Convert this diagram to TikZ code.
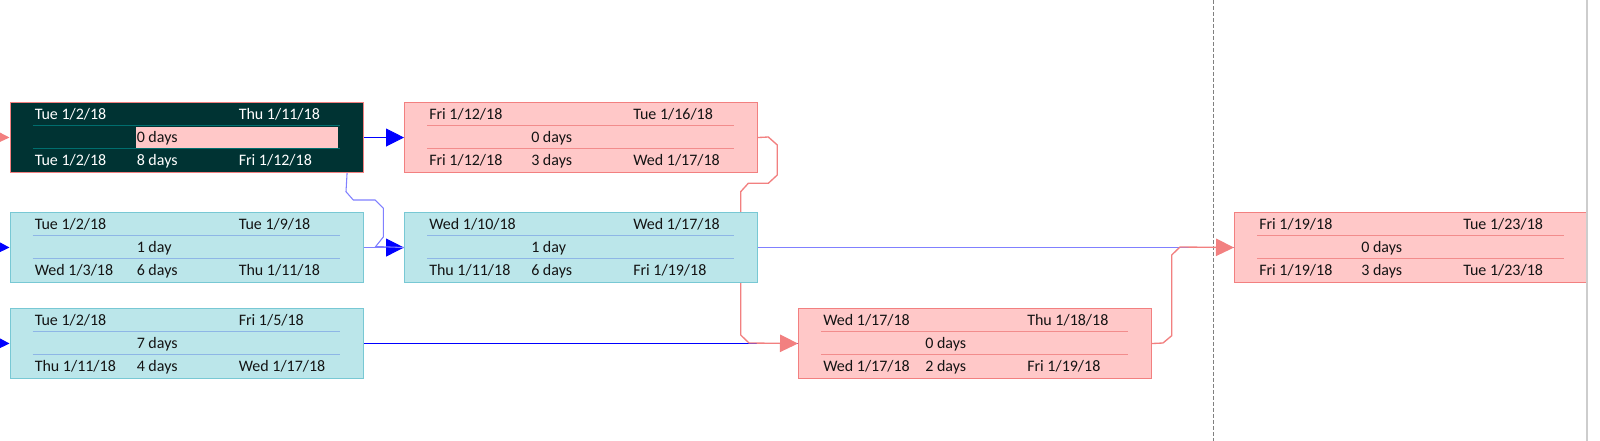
\documentclass[tikz,border=0pt]{standalone}
\usepackage{fontspec}
\setmainfont{Carlito}
\usetikzlibrary{arrows.meta,calc,backgrounds}
\definecolor{colPinkFill}{RGB}{255,200,200}
\definecolor{colPinkDraw}{RGB}{242,128,128}
\definecolor{colPinkSep}{RGB}{242,140,140}
\definecolor{colCyanFill}{RGB}{187,230,234}
\definecolor{colCyanDraw}{RGB}{120,200,212}
\definecolor{colCyanSep}{RGB}{142,182,230}
\definecolor{colDarkFill}{RGB}{0,51,51}
\definecolor{colDarkSep}{RGB}{0,110,110}
\definecolor{colLBlue}{RGB}{128,128,255}
\definecolor{colBlue}{RGB}{0,0,255}
\definecolor{colTxt}{RGB}{20,20,20}
\definecolor{colGrid}{RGB}{128,128,128}
\definecolor{colBorder}{RGB}{205,205,205}
\tikzset{
  boxbase/.style={rectangle, anchor=north west, inner sep=0pt,
    minimum width=264.75pt, minimum height=52.5pt, line width=0.8pt},
  pinkbox/.style={boxbase, fill=colPinkFill, draw=colPinkDraw},
  cyanbox/.style={boxbase, fill=colCyanFill, draw=colCyanDraw},
  darkbox/.style={boxbase, fill=colDarkFill, draw=colPinkDraw},
  pinksep/.style={draw=colPinkSep, line width=0.75pt},
  cyansep/.style={draw=colCyanSep, line width=0.75pt},
  darksep/.style={draw=colDarkSep, line width=0.75pt},
  pinkhl/.style={}, cyanhl/.style={}, darkhl/.style={fill=colPinkFill},
  pinktext/.style={anchor=base west, inner sep=0pt, text=colTxt,
    font=\fontsize{12}{14}\selectfont},
  cyantext/.style={pinktext},
  darktext/.style={pinktext, text=white},
  pinkmid/.style={pinktext}, cyanmid/.style={pinktext}, darkmid/.style={pinktext},
  pinkline/.style={draw=colPinkDraw, line width=1pt},
  lblueline/.style={draw=colLBlue, line width=0.8pt},
  blueline/.style={draw=colBlue, line width=0.75pt},
  tipblue/.style={-{Triangle[length=13.5pt,width=13.5pt,color=colBlue]}},
  tippink/.style={-{Triangle[length=13.5pt,width=13pt,color=colPinkDraw]}},
}
\newcommand\taskbox[9]{%
  \node[#3box] (#1) at #2 {};
  \path[#3hl] ($(#1.north west)+(126.5,25)$) rectangle ($(#1.north west)+(328.5,46)$);
  \draw[#3sep] ($(#1.north west)+(23,24)$) -- ($(#1.north west)+(330,24)$);
  \draw[#3sep] ($(#1.north west)+(23,47)$) -- ($(#1.north west)+(330,47)$);
  \node[#3text] (#1a) at ($(#1.north west)+(25,17.5)$) {#4};
  \node[#3text] (#1b) at ($(#1.north west)+(229,17.5)$) {#5};
  \node[#3mid]  (#1c) at ($(#1.north west)+(127,41)$) {#6};
  \node[#3text] (#1d) at ($(#1.north west)+(25,64)$) {#7};
  \node[#3text] (#1e) at ($(#1.north west)+(127,64)$) {#8};
  \node[#3text] (#1f) at ($(#1.north west)+(229,64)$) {#9};
}
\begin{document}
\begin{tikzpicture}[x=0.75pt, y=-0.75pt]
\useasboundingbox (0,0) rectangle (1600,441);

\taskbox{t1}{(9.5,102)}{dark}{Tue 1/2/18}{Thu 1/11/18}{0 days}{Tue 1/2/18}{8 days}{Fri 1/12/18}
\taskbox{t2}{(9.5,212)}{cyan}{Tue 1/2/18}{Tue 1/9/18}{1 day}{Wed 1/3/18}{6 days}{Thu 1/11/18}
\taskbox{t3}{(9.5,308)}{cyan}{Tue 1/2/18}{Fri 1/5/18}{7 days}{Thu 1/11/18}{4 days}{Wed 1/17/18}
\taskbox{t4}{(404,102)}{pink}{Fri 1/12/18}{Tue 1/16/18}{0 days}{Fri 1/12/18}{3 days}{Wed 1/17/18}
\taskbox{t5}{(404,212)}{cyan}{Wed 1/10/18}{Wed 1/17/18}{1 day}{Thu 1/11/18}{6 days}{Fri 1/19/18}
\taskbox{t6}{(798,308)}{pink}{Wed 1/17/18}{Thu 1/18/18}{0 days}{Wed 1/17/18}{2 days}{Fri 1/19/18}
\taskbox{t7}{(1234,212)}{pink}{Fri 1/19/18}{Tue 1/23/18}{0 days}{Fri 1/19/18}{3 days}{Tue 1/23/18}

\coordinate (in1) at (-12,137);
\coordinate (in2) at (-12,247);
\coordinate (in3) at (-12,343);
\coordinate (gtop) at (1213,0);
\coordinate (gbot) at (1213,441);

\begin{scope}[on background layer]
  \fill[white] (0,0) rectangle (1600,441);
  \draw[colGrid, line width=0.75pt, dash pattern=on 3pt off 1.5pt] (gtop) -- (gbot);
  % incoming arrows at left
  \draw[pinkline, tippink] (in1) -- (t1.west);
  \draw[blueline, tipblue] (in2) -- (t2.west);
  \draw[blueline, tipblue] (in3) -- (t3.west);
  % t1 -> t4
  \draw[pinkline, line width=1.4pt] (t1.east) -- ($(t4.west)+(-12,0)$);
  \draw[blueline, line width=0.6pt, tipblue] (t1.east) -- (t4.west);
  % t2 -> t5
  \draw[lblueline, tipblue] (t2.east) -- (t5.west);
  % t1 -> t5
  \draw[lblueline] ($(t1.south east)+(-16.5,0)$) -- (346,191.7) -- (353.3,200) -- (375,200)
     -- (383.3,208.3) -- (383.3,237) -- (375.7,246.5) -- (t5.west);
  % t3 -> t6
  \draw[blueline] (t3.east) -- (t6.west);
  % t5 -> t7
  \draw[lblueline] (t5.east) -- (t7.west);
  % t4 -> t6
  \draw[pinkline, tippink] (t4.east) -- (768.3,137) -- (777.3,145) -- (777.3,175) -- (768.3,183.3)
     -- (748.3,183.3) -- (740.7,191.7) -- (740.7,335) -- (749,343) -- (t6.west);
  % t6 -> t7
  \draw[pinkline, tippink] (t6.east) -- (1163,343) -- (1171.7,335.7) -- (1171.7,255)
     -- (1180,247) -- (t7.west);
\end{scope}

% window border at right
\fill[white] (1587,0) rectangle (1600,441);
\draw[colBorder, line width=1.2pt] (1586.8,0) -- (1586.8,441);
\end{tikzpicture}
\end{document}
